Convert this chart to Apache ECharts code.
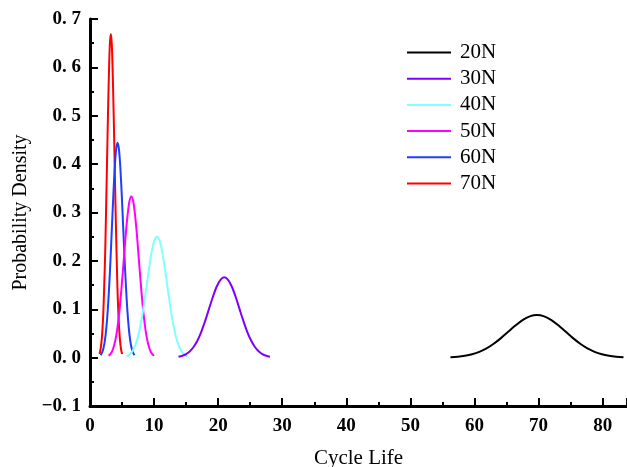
<!DOCTYPE html>
<html>
<head>
<meta charset="utf-8">
<script src="https://cdn.jsdelivr.net/npm/echarts@6/dist/echarts.min.js"></script>
<style>
  html, body { margin: 0; padding: 0; background: #fff; }
  #chart { width: 627px; height: 467px; }
</style>
</head>
<body>
<div id="chart"></div>
<script>
// Load levels shown in the legend
const loads = ['20N', '30N', '40N', '50N', '60N', '70N'];
const colors = ['#000000', '#7f00ff', '#7fffff', '#ff00ff', '#1f3fff', '#ff0000'];

// Probability density of cycle life for each load: x = cycle life, y = density
const x20 = [56.25, 57.38, 58.50, 59.63, 60.75, 61.88, 63.00, 64.13, 65.25, 66.38, 67.50, 68.63, 69.75,
             70.88, 72.00, 73.13, 74.25, 75.38, 76.50, 77.63, 78.75, 79.88, 81.00, 82.13, 83.25];
const y20 = [0.0010, 0.0020, 0.0039, 0.0070, 0.0119, 0.0190, 0.0286, 0.0403, 0.0534, 0.0664, 0.0777, 0.0853, 0.0880,
             0.0853, 0.0777, 0.0664, 0.0534, 0.0403, 0.0286, 0.0190, 0.0119, 0.0070, 0.0039, 0.0020, 0.0010];

const x30 = [13.81, 14.40, 15.00, 15.59, 16.19, 16.79, 17.38, 17.97, 18.57, 19.17, 19.76, 20.36, 20.95,
             21.55, 22.14, 22.74, 23.33, 23.93, 24.52, 25.12, 25.71, 26.31, 26.90, 27.50, 28.09];
const y30 = [0.0018, 0.0038, 0.0073, 0.0132, 0.0225, 0.0359, 0.0539, 0.0760, 0.1007, 0.1253, 0.1465, 0.1609, 0.1660,
             0.1609, 0.1465, 0.1253, 0.1007, 0.0760, 0.0539, 0.0359, 0.0225, 0.0132, 0.0073, 0.0038, 0.0018];

const x40 = [5.71, 6.10, 6.50, 6.89, 7.29, 7.68, 8.08, 8.47, 8.87, 9.26, 9.66, 10.05, 10.45,
             10.85, 11.24, 11.64, 12.03, 12.43, 12.82, 13.22, 13.61, 14.01, 14.40, 14.80, 15.19];
const y40 = [0.0028, 0.0057, 0.0110, 0.0199, 0.0338, 0.0541, 0.0812, 0.1145, 0.1516, 0.1887, 0.2206, 0.2423, 0.2500,
             0.2423, 0.2206, 0.1887, 0.1516, 0.1145, 0.0812, 0.0541, 0.0338, 0.0199, 0.0110, 0.0057, 0.0028];

const x50 = [2.91, 3.20, 3.50, 3.79, 4.09, 4.38, 4.68, 4.97, 5.27, 5.56, 5.86, 6.15, 6.45,
             6.75, 7.04, 7.34, 7.63, 7.93, 8.22, 8.52, 8.81, 9.11, 9.40, 9.70, 9.99];
const y50 = [0.0037, 0.0076, 0.0146, 0.0265, 0.0451, 0.0720, 0.1081, 0.1524, 0.2020, 0.2513, 0.2939, 0.3227, 0.3330,
             0.3227, 0.2939, 0.2513, 0.2020, 0.1524, 0.1081, 0.0720, 0.0451, 0.0265, 0.0146, 0.0076, 0.0037];

const x60 = [1.66, 1.88, 2.10, 2.32, 2.54, 2.76, 2.98, 3.20, 3.42, 3.64, 3.86, 4.08, 4.30,
             4.52, 4.74, 4.96, 5.18, 5.40, 5.62, 5.84, 6.06, 6.28, 6.50, 6.72, 6.94];
const y60 = [0.0049, 0.0101, 0.0195, 0.0353, 0.0601, 0.0960, 0.1442, 0.2033, 0.2693, 0.3351, 0.3918, 0.4303, 0.4440,
             0.4303, 0.3918, 0.3351, 0.2693, 0.2033, 0.1442, 0.0960, 0.0601, 0.0353, 0.0195, 0.0101, 0.0049];

const x70 = [1.48, 1.62, 1.77, 1.92, 2.07, 2.21, 2.37, 2.51, 2.66, 2.81, 2.96, 3.10, 3.25,
             3.40, 3.54, 3.69, 3.84, 3.99, 4.14, 4.28, 4.43, 4.58, 4.73, 4.87, 5.02];
const y70 = [0.0074, 0.0153, 0.0294, 0.0533, 0.0905, 0.1447, 0.2172, 0.3063, 0.4057, 0.5050, 0.5904, 0.6484, 0.6690,
             0.6484, 0.5904, 0.5050, 0.4057, 0.3063, 0.2172, 0.1447, 0.0905, 0.0533, 0.0294, 0.0153, 0.0074];

const xs = [x20, x30, x40, x50, x60, x70];
const ys = [y20, y30, y40, y50, y60, y70];

const serif = '"Liberation Serif", "Times New Roman", serif';

const series = loads.map((name, i) => ({
  name: name,
  type: 'line',
  data: xs[i].map((x, j) => [x, ys[i][j]]),
  smooth: 0.3,
  symbol: 'none',
  lineStyle: { color: colors[i], width: 2 },
  itemStyle: { color: colors[i] },
  z: 10 - i
}));

const chart = echarts.init(document.getElementById('chart'), null, { renderer: 'canvas' });
chart.setOption({
  animation: false,
  backgroundColor: '#ffffff',
  grid: { left: 90, right: 0, top: 19, bottom: 61, containLabel: false, outerBoundsMode: 'none' },
  legend: {
    orient: 'vertical',
    left: 402,
    top: 37,
    itemWidth: 44,
    itemHeight: 14,
    itemGap: 5.2,
    icon: 'path://M0,6 L44,6 L44,8 L0,8 Z',
    textStyle: { fontFamily: serif, fontSize: 21, color: '#000', lineHeight: 20, padding: [0, 0, 0, 4] },
    data: loads
  },
  xAxis: {
    type: 'value',
    min: 0,
    max: 83.8,
    interval: 10,
    name: 'Cycle Life',
    nameLocation: 'middle',
    nameGap: 42,
    nameTextStyle: { fontFamily: serif, fontSize: 21, color: '#000' },
    axisLine: { onZero: false, lineStyle: { color: '#000', width: 3 } },
    axisTick: { inside: true, length: 8, lineStyle: { color: '#000', width: 2 } },
    minorTick: { show: true, splitNumber: 2, length: 4, lineStyle: { color: '#000', width: 2 } },
    axisLabel: {
      fontFamily: serif, fontSize: 19, fontWeight: 'bold', color: '#000', margin: 11,
      showMaxLabel: false,
      formatter: v => (v > 80 ? '' : String(v))
    },
    splitLine: { show: false }
  },
  yAxis: {
    type: 'value',
    min: -0.1,
    max: 0.7,
    interval: 0.1,
    name: 'Probability Density',
    nameLocation: 'middle',
    nameGap: 55,
    nameTextStyle: { fontFamily: serif, fontSize: 20, color: '#000' },
    axisLine: { show: true, onZero: false, lineStyle: { color: '#000', width: 3 } },
    axisTick: { show: true, inside: true, length: 8, lineStyle: { color: '#000', width: 2 } },
    minorTick: { show: true, splitNumber: 2, length: 4, lineStyle: { color: '#000', width: 2 } },
    axisLabel: {
      fontFamily: serif, fontSize: 19, fontWeight: 'bold', color: '#000', margin: 9,
      formatter: v => {
        const s = Math.abs(v).toFixed(1).replace('.', '. ');
        return v < -1e-9 ? '\u2212' + s : s;
      }
    },
    splitLine: { show: false }
  },
  series: series
});
</script>
</body>
</html>
